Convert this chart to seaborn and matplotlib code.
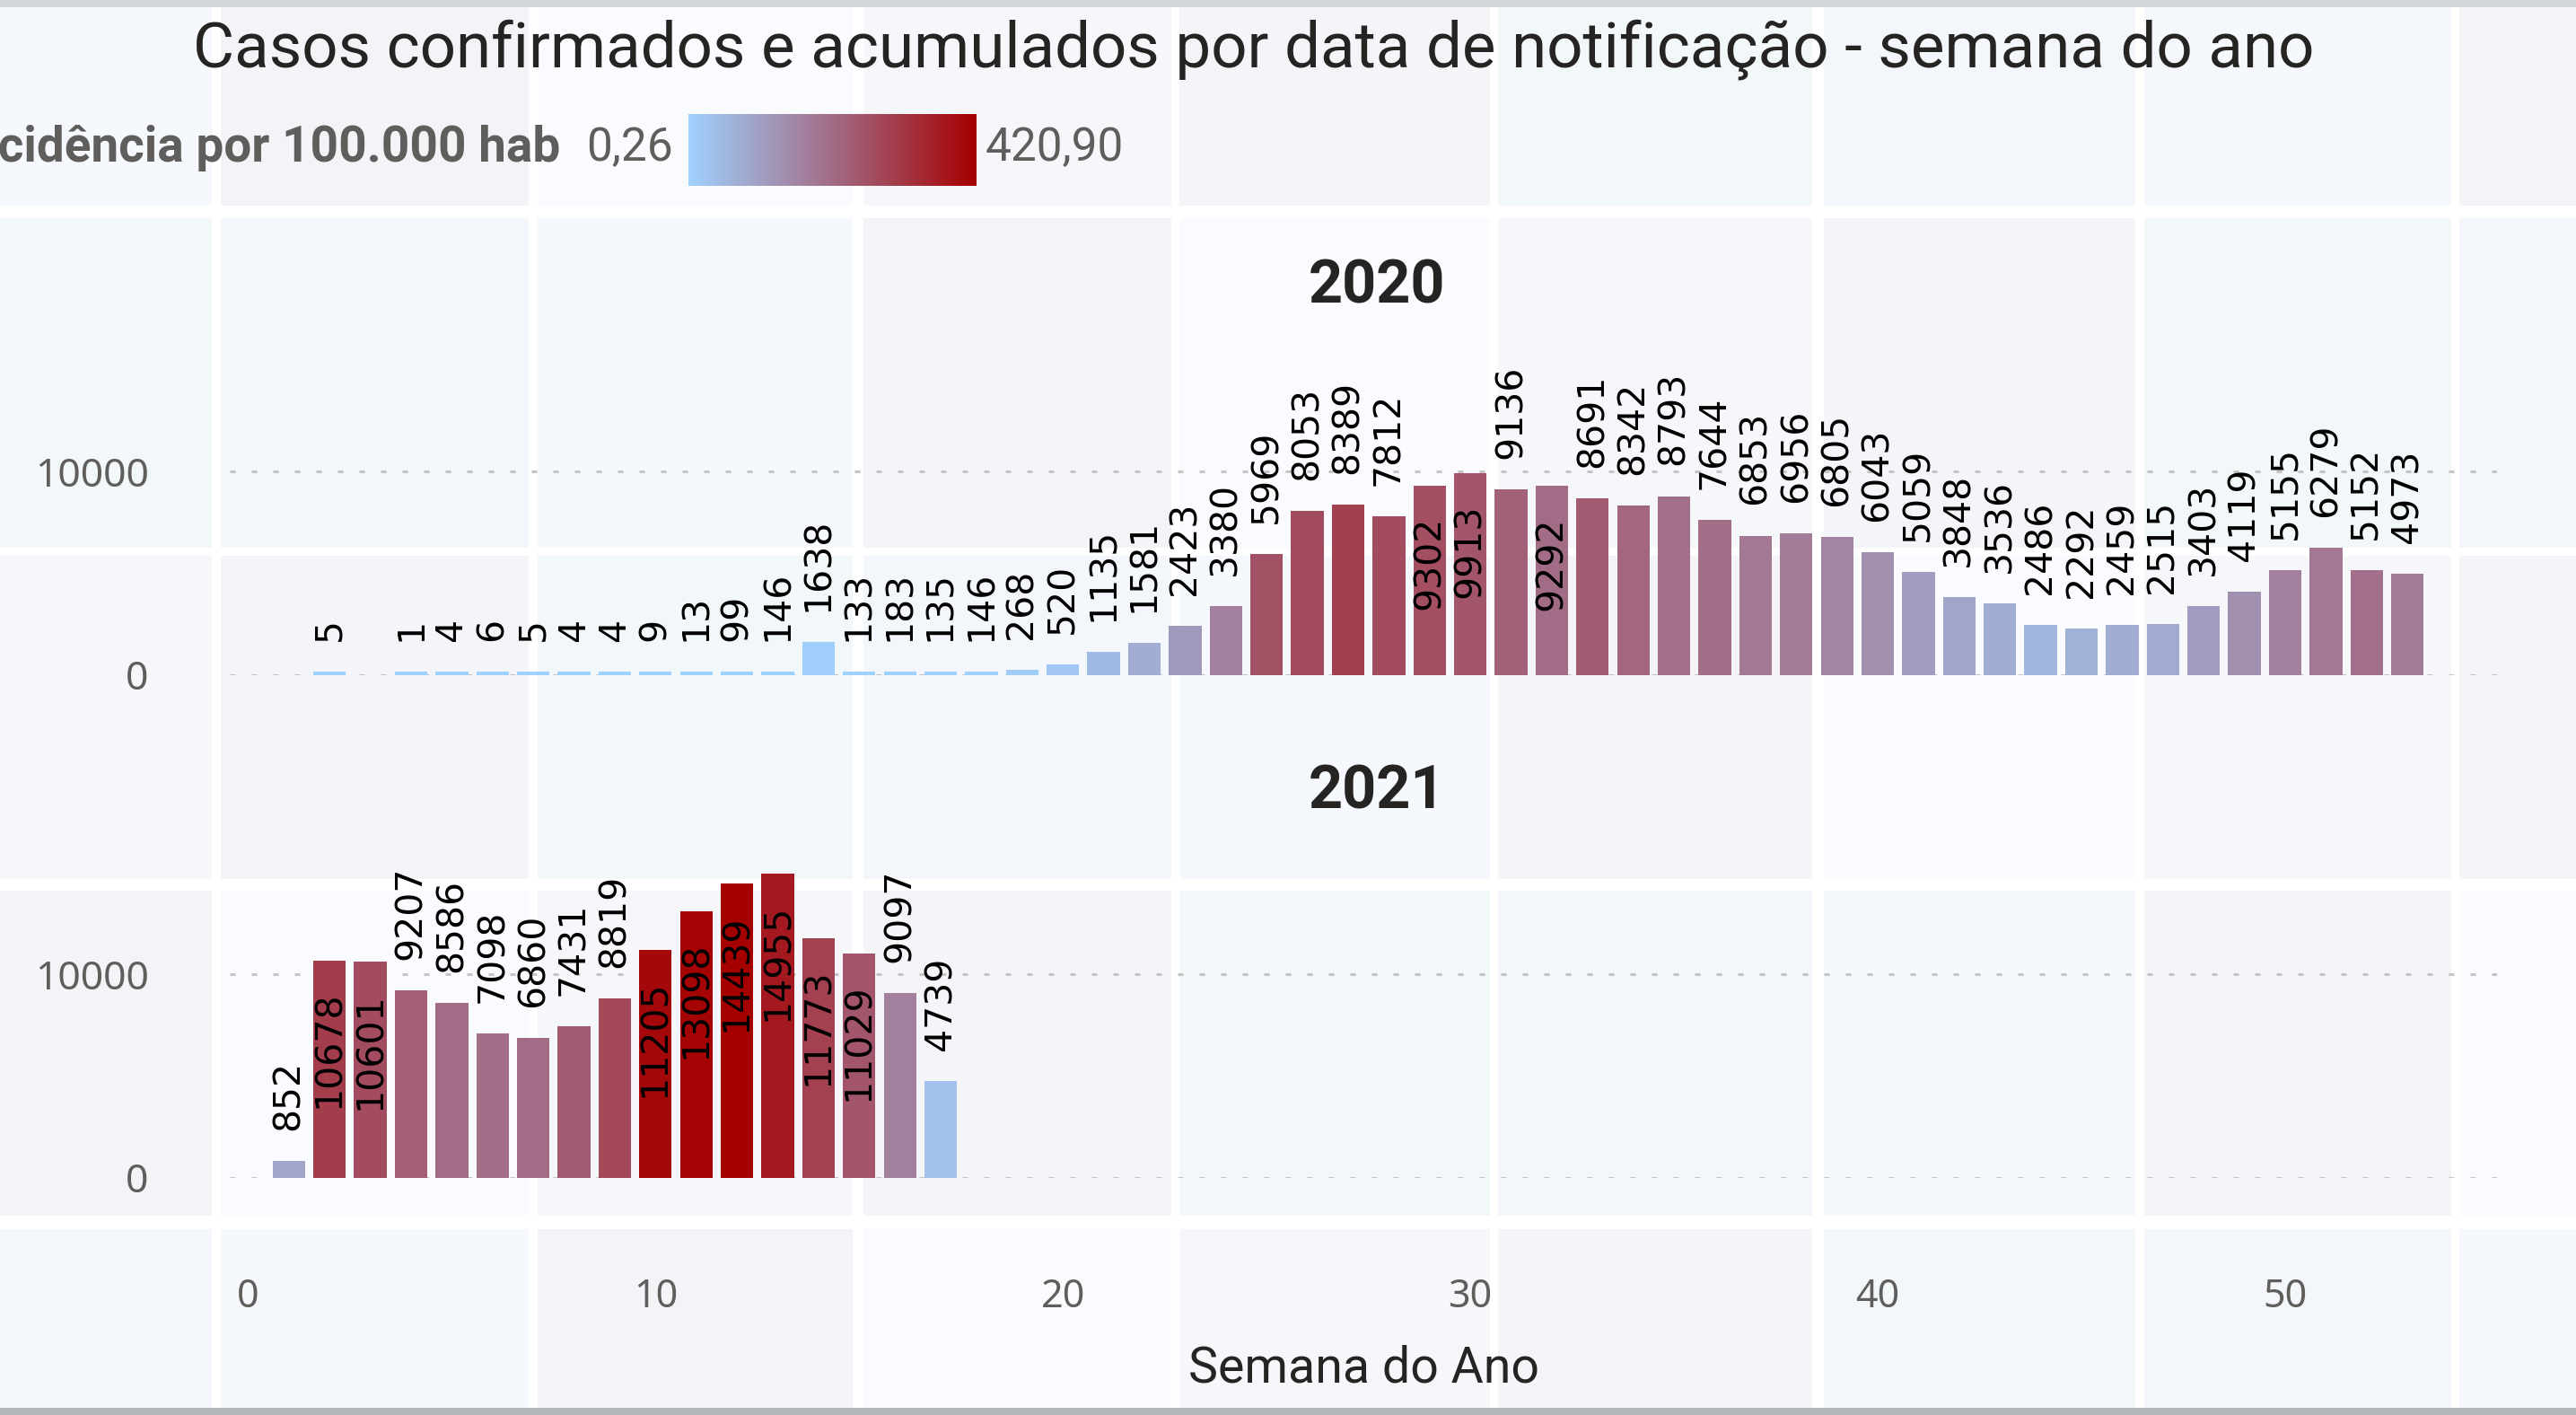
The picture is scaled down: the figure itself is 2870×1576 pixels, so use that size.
import matplotlib
matplotlib.use("Agg")
import matplotlib.pyplot as plt
import numpy as np
import pandas as pd
import seaborn as sns
from matplotlib.colors import LinearSegmentedColormap, Normalize, to_hex
from matplotlib.patches import Rectangle

# semanas, casos confirmados e incidencia por 100.000 hab
semanas_2020 = [2] + list(range(4, 54))
casos_2020 = [5, 1, 4, 6, 5, 4, 4, 9, 13, 99, 146, 1638, 133, 183, 135, 146, 268, 520, 1135,
              1581, 2423, 3380, 5969, 8053, 8389, 7812, 9302, 9913, 9136, 9292, 8691, 8342,
              8793, 7644, 6853, 6956, 6805, 6043, 5059, 3848, 3536, 2486, 2292, 2459, 2515,
              3403, 4119, 5155, 6279, 5152, 4973]
incid_2020 = [0.3, 0.26, 0.4, 0.5, 0.4, 0.4, 0.4, 0.7, 1.0, 4.5, 6.0, 9.0, 4.5, 6.0, 4.5, 5.0,
              13.0, 25.0, 51.0, 76.0, 118.0, 168.0, 261.0, 273.0, 295.0, 273.0, 269.0, 252.0,
              231.0, 210.0, 244.0, 223.0, 202.0, 206.0, 185.0, 177.0, 160.0, 139.0, 109.0,
              93.0, 76.0, 59.0, 67.0, 76.0, 84.0, 109.0, 139.0, 168.0, 185.0, 202.0, 177.0]
semanas_2021 = list(range(1, 18))
casos_2021 = [852, 10678, 10601, 9207, 8586, 7098, 6860, 7431, 8819, 11205, 13098, 14439,
              14955, 11773, 11029, 9097, 4739]
incid_2021 = [93.0, 303.0, 273.0, 236.0, 210.0, 206.0, 210.0, 244.0, 278.0, 404.0, 412.0,
              420.9, 370.0, 294.0, 252.0, 168.0, 34.0]
inc_min, inc_max = 0.26, 420.90
xticks = [0, 10, 20, 30, 40, 50]
yticks = [0, 10000]

W, H = 2870, 1576
PISO = 160  # altura minima visivel da barra (como no Power BI)

sns.set_theme(style="white")
plt.rcParams["font.family"] = ["Roboto", "DejaVu Sans"]

cmap = LinearSegmentedColormap.from_list("inc", ["#a0d2ff", "#a26c86", "#a50000"])
norm = Normalize(inc_min, inc_max)

fig = plt.figure(figsize=(W / 100, H / 100), dpi=100)
fig.patch.set_facecolor("white")

# fundo em mosaico claro, estilo do relatorio
cols = [(0, 236), (246, 589), (599, 950), (962, 1305), (1314, 1660), (1669, 2019),
        (2032, 2379), (2389, 2731), (2740, 2870)]
rows = [(8, 229), (243, 610), (619, 979), (992, 1354), (1369, 1568)]
tons = ["#f5f8fc", "#f3f5f9", "#f4f4f8", "#f2f8fa", "#fafbfe", "#f3f6fb", "#f6f7fb"]
for i, (y1, y2) in enumerate(rows):
    for j, (x1, x2) in enumerate(cols):
        fig.add_artist(Rectangle((x1 / W, 1 - y2 / H), (x2 - x1) / W, (y2 - y1) / H,
                                 transform=fig.transFigure, color=tons[(i * 3 + j * 2) % len(tons)],
                                 lw=0, zorder=-10))
fig.add_artist(Rectangle((0, 1 - 8 / H), 1, 8 / H, transform=fig.transFigure,
                         color="#d3d6d9", lw=0, zorder=-9))
fig.add_artist(Rectangle((0, 0), 1, 8 / H, transform=fig.transFigure,
                         color="#b4b7ba", lw=0, zorder=-9))

left, width = 256 / W, (2782 - 256) / W
ax20 = fig.add_axes([left, (H - 752) / H, width, 363 / H])
ax21 = fig.add_axes([left, (H - 1312) / H, width, 363 / H])

for ax, sem, casos, inc in [(ax20, semanas_2020, casos_2020, incid_2020),
                            (ax21, semanas_2021, casos_2021, incid_2021)]:
    df = pd.DataFrame({"semana": sem, "casos": casos, "incidencia": inc})
    df["altura"] = df["casos"].clip(lower=PISO)
    cores = {s: to_hex(cmap(norm(v))) for s, v in zip(df.semana, df.incidencia)}
    sns.barplot(data=df, x="semana", y="altura", hue="semana", palette=cores,
                native_scale=True, dodge=False, legend=False, width=0.8,
                saturation=1, linewidth=0, ax=ax)
    for s, c, h in zip(df.semana, df.casos, df.altura):
        dentro = c > 9250
        ax.annotate(str(c), (s, h), xytext=(0, -24.5 if dentro else 24.5),
                    textcoords="offset points", rotation=90, ha="center",
                    va="top" if dentro else "bottom", fontsize=29.5,
                    family="DejaVu Sans", color="black", annotation_clip=False)
    ax.set_xlim(-0.45, 55.2)
    ax.set_ylim(0, 16000)
    ax.set_yticks(yticks)
    ax.set_xticks(xticks)
    ax.set_ylabel("")
    ax.set_xlabel("")
    ax.patch.set_alpha(0)
    sns.despine(ax=ax, left=True, bottom=True)
    ax.yaxis.grid(True, ls=(0, (2, 6)), lw=2.16, color="#c4c4c4")
    ax.xaxis.grid(False)
    ax.set_axisbelow(True)
    ax.tick_params(axis="y", length=0, pad=65, labelsize=32, labelcolor="#605e5c")
    for t in ax.get_yticklabels():
        t.set_family("Noto Sans")

ax20.tick_params(axis="x", length=0, labelbottom=False)
ax21.tick_params(axis="x", length=0, pad=80, labelsize=31, labelcolor="#605e5c")
for t in ax21.get_xticklabels():
    t.set_family("Noto Sans")
ax21.set_xlabel("Semana do Ano", fontsize=40, color="#252423", labelpad=22)

fig.text(1534 / W, 1 - 320 / H, "2020", ha="center", va="center", fontsize=48,
         weight="bold", color="#252423")
fig.text(1534 / W, 1 - 882 / H, "2021", ha="center", va="center", fontsize=48,
         weight="bold", color="#252423")

fig.text(1397 / W, 1 - 55 / H,
         "Casos confirmados e acumulados por data de notificação - semana do ano",
         ha="center", va="center", fontsize=51, color="#252423")

# legenda de cor (incidencia) - o titulo fica cortado na borda, como no original
fig.text(624 / W, 1 - 165 / H, "Incidência por 100.000 hab", ha="right", va="center",
         fontsize=39.5, weight="bold", color="#605e5c")
fig.text(702 / W, 1 - 165 / H, "0,26", ha="center", va="center", fontsize=37,
         color="#605e5c")
fig.text(1098 / W, 1 - 165 / H, "420,90", ha="left", va="center", fontsize=37,
         color="#605e5c")
cax = fig.add_axes([767 / W, (H - 207) / H, 321 / W, 80 / H])
cax.imshow(np.linspace(inc_min, inc_max, 256)[None, :], aspect="auto", cmap=cmap, norm=norm)
cax.set_axis_off()

fig.savefig("out.png", dpi=100)
